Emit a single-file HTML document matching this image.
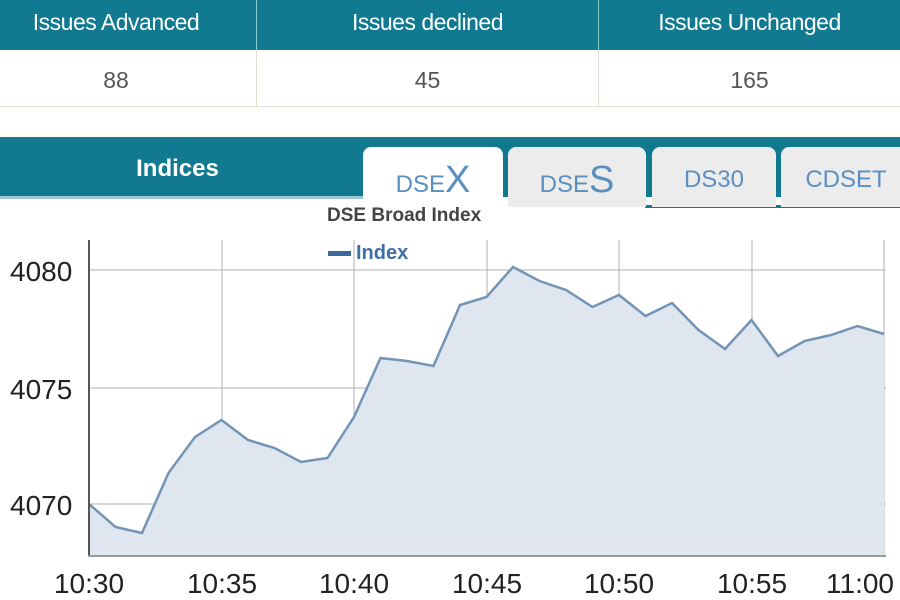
<!DOCTYPE html>
<html><head><style>
body{margin:0;width:900px;height:600px;overflow:hidden;background:#fff;font-family:"Liberation Sans",sans-serif;position:relative}
.a{position:absolute}
.h{top:0;height:50px;background:#117a90;color:#fff;font-size:23px;line-height:44px;text-align:center;letter-spacing:-0.5px;box-sizing:border-box}
.v{top:50px;height:57px;border-bottom:1px solid #e4ded2;color:#555;font-size:23px;line-height:60px;text-align:center;box-sizing:border-box}
.tab{top:147px;height:60px;background:#ececec;border-radius:8px 8px 0 0;color:#5b8fc0;font-size:24px;text-align:center;line-height:66px}
</style></head><body>
<div class="a h" style="left:0;width:256px;padding-right:24px">Issues Advanced</div>
<div class="a h" style="left:256px;width:342px;border-left:1px solid #8cc">Issues declined</div>
<div class="a h" style="left:598px;width:302px;border-left:1px solid #8cc">Issues Unchanged</div>
<div class="a v" style="left:0;width:256px;padding-right:24px">88</div>
<div class="a v" style="left:256px;width:342px;border-left:1px solid #e4ded2">45</div>
<div class="a v" style="left:598px;width:302px;border-left:1px solid #e4ded2">165</div>
<div class="a" style="left:0;top:137px;width:900px;height:60px;background:#117a90"></div>
<div class="a" style="left:0;top:196px;width:365px;height:3px;background:#9cc9d3"></div>
<div class="a" style="left:645px;top:205px;width:255px;height:3px;background:#117a90"></div>
<div class="a" style="left:0;top:137px;width:355px;height:60px;color:#fff;font-size:24px;font-weight:bold;text-align:center;line-height:64px">Indices</div>
<div class="a tab" style="left:363px;width:140px;background:#fff;height:70px">DSE<span style="font-size:38px">X</span></div>
<div class="a tab" style="left:508px;width:138px">DSE<span style="font-size:38px">S</span></div>
<div class="a tab" style="left:652px;width:124px">DS30</div>
<div class="a tab" style="left:781px;width:130px">CDSET</div>
<svg class="a" style="left:0;top:0" width="900" height="600">
<g stroke="#b0b0b0" stroke-width="1">
<line x1="89" y1="270" x2="886" y2="270"/><line x1="89" y1="388" x2="886" y2="388"/><line x1="89" y1="504" x2="886" y2="504"/>
<line x1="222" y1="240" x2="222" y2="556"/><line x1="354" y1="240" x2="354" y2="556"/><line x1="487" y1="240" x2="487" y2="556"/><line x1="619" y1="240" x2="619" y2="556"/><line x1="752" y1="240" x2="752" y2="556"/><line x1="884" y1="240" x2="884" y2="556"/>
</g>
<polygon fill="#dfe6ef" points="89,556 89,504 115.5,527 142,533 168.5,473 195,437 221.5,420 248,440 274.5,448 301,462 327.5,458 354,417 380.5,358 407,361 433.5,366 460,305 486.5,297 513,267 539.5,281 566,290 592.5,307 619,295 645.5,316 672,303 698.5,330 725,349 751.5,320 778,356 804.5,341 831,335 857.5,326 884,334 884,556"/>
<polyline fill="none" stroke="#7394b5" stroke-width="2.5" points="89,504 115.5,527 142,533 168.5,473 195,437 221.5,420 248,440 274.5,448 301,462 327.5,458 354,417 380.5,358 407,361 433.5,366 460,305 486.5,297 513,267 539.5,281 566,290 592.5,307 619,295 645.5,316 672,303 698.5,330 725,349 751.5,320 778,356 804.5,341 831,335 857.5,326 884,334"/>
<line x1="89" y1="240" x2="89" y2="557" stroke="#555" stroke-width="2"/>
<line x1="88" y1="556" x2="886" y2="556" stroke="#999" stroke-width="2"/>
<g font-size="28" fill="#222" font-family="Liberation Sans">
<text x="10" y="281">4080</text><text x="10" y="399">4075</text><text x="10" y="515">4070</text>
<g text-anchor="middle"><text x="89" y="593">10:30</text><text x="222" y="593">10:35</text><text x="354" y="593">10:40</text><text x="487" y="593">10:45</text><text x="619" y="593">10:50</text><text x="752" y="593">10:55</text><text x="860" y="593">11:00</text></g>
</g>
<text x="327" y="221" font-size="19" font-weight="bold" fill="#444">DSE Broad Index</text>
<rect x="328" y="251" width="23" height="5" fill="#3d6a9e"/>
<text x="356" y="259" font-size="20" font-weight="bold" fill="#3d6fa8">Index</text>
</svg>
</body></html>
